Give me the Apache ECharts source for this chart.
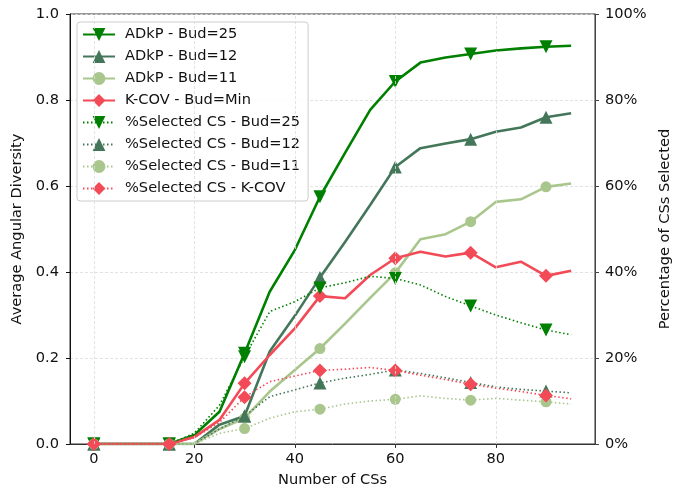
<!DOCTYPE html>
<html>
<head>
<meta charset="utf-8">
<script src="https://cdn.jsdelivr.net/npm/echarts@6/dist/echarts.min.js"></script>
<style>
html,body{margin:0;padding:0;background:#fff;}
#chart{width:688px;height:494px;}
</style>
</head>
<body>
<div id="chart"></div>
<script>
const xs = [0,5,10,15,20,25,30,35,40,45,50,55,60,65,70,75,80,85,90,95];
const xTicks = [0,20,40,60,80];

const adkp25 = [0,0,0,0,0.021,0.075,0.211,0.354,0.451,0.575,0.677,0.777,0.843,0.887,0.899,0.907,0.915,0.920,0.924,0.926];
const adkp12 = [0,0,0,0,0,0.045,0.065,0.215,0.298,0.387,0.470,0.556,0.644,0.688,0.699,0.709,0.726,0.736,0.760,0.769];
const adkp11 = [0,0,0,0,0,0.035,0.060,0.122,0.172,0.222,0.280,0.340,0.398,0.476,0.488,0.517,0.563,0.569,0.598,0.606];
const kcov   = [0,0,0,0,0.016,0.056,0.141,0.207,0.269,0.344,0.339,0.393,0.432,0.447,0.436,0.445,0.411,0.424,0.391,0.403];

const sel25 = [0,0,0,0,2.5,9.0,20.3,30.8,33.1,36.3,37.5,39.0,38.5,37.0,34.3,32.1,30.0,28.2,26.5,25.4];
const sel12 = [0,0,0,0,0,3.5,6.5,11.0,12.6,14.2,15.3,16.2,17.2,16.4,15.4,14.3,13.3,12.7,12.3,11.9];
const sel11 = [0,0,0,0,0,2.5,3.6,6.0,7.5,8.1,9.3,10.0,10.4,11.2,10.6,10.2,10.6,10.2,9.8,9.3];
const selK  = [0,0,0,0,1.5,5.0,10.9,14.5,15.8,17.1,17.4,17.8,17.1,16.0,15.0,13.9,13.0,12.2,11.3,10.5];

const C25 = '#008000', C12 = '#44775a', C11 = '#a9c68d', CK = '#f24b57';
const FONT = 'DejaVu Sans';
const FS = 14.6;

function pairs(arr){ return xs.map((x,i)=>[x, arr[i]]); }
function markSize(sz){ return function(v, p){ return p.dataIndex % 3 === 0 ? sz : 0; }; }

function mk(name, data, color, symbol, size, rotate, dotted, yIdx, z){
  return {
    name: name, type: 'line', data: pairs(data), yAxisIndex: yIdx,
    showAllSymbol: true, symbol: symbol, symbolSize: markSize(size), symbolRotate: rotate,
    lineStyle: {color: color, width: dotted ? 1.6 : 2.6, type: dotted ? [1.5, 2.5] : 'solid'},
    itemStyle: {color: color},
    emphasis: {disabled: true}, animation: false, z: z, silent: true
  };
}

const series = [
  mk('ADkP - Bud=25', adkp25, C25, 'triangle', 13, 180, false, 0, 3),
  mk('ADkP - Bud=12', adkp12, C12, 'triangle', 13, 0, false, 0, 3),
  mk('ADkP - Bud=11', adkp11, C11, 'circle', 11, 0, false, 0, 3),
  mk('K-COV - Bud=Min', kcov, CK, 'diamond', 14, 0, false, 0, 3),
  mk('%Selected CS - Bud=25', sel25, C25, 'triangle', 13, 180, true, 1, 4),
  mk('%Selected CS - Bud=12', sel12, C12, 'triangle', 13, 0, true, 1, 4),
  mk('%Selected CS - Bud=11', sel11, C11, 'circle', 11, 0, true, 1, 4),
  mk('%Selected CS - K-COV', selK, CK, 'diamond', 14, 0, true, 1, 4),
  {
    name: 'vgrid', type: 'line', data: [], yAxisIndex: 0, z: 1, silent: true, animation: false,
    markLine: {
      silent: true, symbol: ['none','none'], animation: false,
      label: {show: false},
      lineStyle: {color: '#dcdcdc', width: 0.8, type: [3, 2]},
      data: xTicks.map(v => ({xAxis: v}))
    }
  }
];

const chart = echarts.init(document.getElementById('chart'), null, {renderer: 'canvas'});
chart.setOption({
  backgroundColor: '#fff',
  animation: false,
  textStyle: {fontFamily: FONT},
  grid: {left: 70, right: 93, top: 14, bottom: 50, show: true, borderColor: '#333', borderWidth: 1, backgroundColor: 'transparent'},
  legend: {
    data: series.slice(0, 8).map(s => s.name),
    orient: 'vertical', left: 77, top: 22,
    itemWidth: 32, itemHeight: 16, itemGap: 7,
    padding: [5, 8, 5, 5],
    backgroundColor: 'rgba(255,255,255,0.85)', borderColor: '#cccccc', borderWidth: 1, borderRadius: 3,
    textStyle: {fontFamily: FONT, fontSize: FS, color: '#111', padding: [0, 0, 0, 5]},
    selectedMode: false
  },
  xAxis: {
    type: 'value', min: -4.75, max: 99.75,
    name: 'Number of CSs', nameLocation: 'middle', nameGap: 29,
    nameTextStyle: {fontFamily: FONT, fontSize: FS, color: '#111'},
    axisLine: {show: true, onZero: false, lineStyle: {color: '#333', width: 1}},
    axisTick: {show: true, length: 4, customValues: xTicks, lineStyle: {color: '#333'}},
    axisLabel: {customValues: xTicks, fontFamily: FONT, fontSize: FS, color: '#111', margin: 8},
    splitLine: {show: false}
  },
  yAxis: [
    {
      type: 'value', min: 0, max: 1, interval: 0.2, position: 'left',
      name: 'Average Angular Diversity', nameLocation: 'middle', nameGap: 35,
      nameTextStyle: {fontFamily: FONT, fontSize: FS, color: '#111'},
      axisLine: {show: true, onZero: false, lineStyle: {color: '#111', width: 1}},
      axisTick: {show: true, length: 4, lineStyle: {color: '#111'}},
      axisLabel: {fontFamily: FONT, fontSize: FS, color: '#111', margin: 11, formatter: v => v.toFixed(1)},
      splitLine: {show: true, lineStyle: {color: '#dcdcdc', width: 0.8, type: [3, 2]}}
    },
    {
      type: 'value', min: 0, max: 100, interval: 20, position: 'right',
      name: 'Percentage of CSs Selected', nameLocation: 'middle', nameGap: 56,
      nameTextStyle: {fontFamily: FONT, fontSize: FS, color: '#111'},
      axisLine: {show: true, onZero: false, lineStyle: {color: '#444', width: 1}},
      axisTick: {show: true, length: 4, lineStyle: {color: '#444'}},
      axisLabel: {fontFamily: FONT, fontSize: FS, color: '#111', margin: 10, formatter: '{value}%'},
      splitLine: {show: false}
    }
  ],
  series: series
});
</script>
</body>
</html>
